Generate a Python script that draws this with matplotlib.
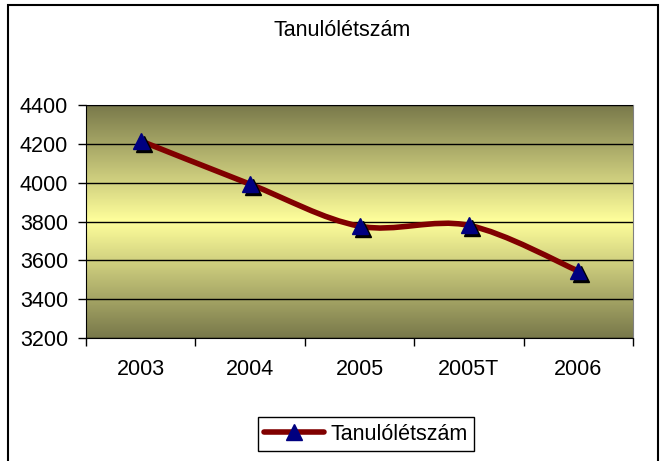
import numpy as np
import matplotlib
matplotlib.use("Agg")
import matplotlib.pyplot as plt
from matplotlib.path import Path
from matplotlib.patches import PathPatch, Rectangle
from matplotlib.lines import Line2D
from matplotlib.transforms import offset_copy

plt.rcParams['font.family'] = ['Liberation Sans', 'DejaVu Sans']

# adatok
years = ['2003', '2004', '2005', '2005T', '2006']
students = [4215, 3992, 3776, 3780, 3545]
yticks = [3200, 3400, 3600, 3800, 4000, 4200, 4400]
title = 'Tanulólétszám'

line_col = '#800000'
marker_col = '#000080'
fs = 15.5

fig = plt.figure(figsize=(6.62, 4.61), dpi=100)
W, H = 662, 461
ax = fig.add_axes([86/W, 1-338/H, (633-86)/W, (338-105)/H])

# külső keret
fig.patches.append(Rectangle((8/W, -0.05), (658-8)/W, 1.05-5/H, transform=fig.transFigure,
                             fill=False, edgecolor='black', linewidth=1.5))

# színátmenetes háttér (középen világos sárga)
t = np.abs(np.linspace(-1, 1, 256))[:, None]
top = np.array([0.47, 0.47, 0.29])
mid = np.array([1.0, 1.0, 0.61])
grad = mid + (top - mid) * t[..., None]
grad = np.repeat(grad, 2, axis=1)
ax.imshow(grad, extent=[0, 1, 0, 1], transform=ax.transAxes, aspect='auto', zorder=0)

x = np.arange(len(years))
y = np.array(students, dtype=float)
ax.set_xlim(-0.5, len(years) - 0.5)
ax.set_ylim(3200, 4400)

# simított vonal (Excel-szerű Bezier)
px = np.concatenate([[x[0]], x, [x[-1]]])
py = np.concatenate([[y[0]], y, [y[-1]]])
verts = [(x[0], y[0])]
codes = [Path.MOVETO]
for i in range(1, len(px) - 2):
    c1 = (px[i] + (px[i+1] - px[i-1]) / 6, py[i] + (py[i+1] - py[i-1]) / 6)
    c2 = (px[i+1] - (px[i+2] - px[i]) / 6, py[i+1] - (py[i+2] - py[i]) / 6)
    verts += [c1, c2, (px[i+1], py[i+1])]
    codes += [Path.CURVE4] * 3
ax.add_patch(PathPatch(Path(verts, codes), fill=False, edgecolor=line_col,
                       linewidth=4, capstyle='round', joinstyle='round', zorder=3))

# jelölők árnyékkal
shadow = offset_copy(ax.transData, fig=fig, x=3, y=-3, units='dots')
ax.plot(x, y, linestyle='none', marker='^', markersize=11, color='black', transform=shadow, zorder=4)
ax.plot(x, y, linestyle='none', marker='^', markersize=11, color=marker_col, zorder=5)

ax.set_yticks(yticks)
ax.yaxis.grid(True, color='black', linewidth=1)
ax.set_axisbelow(False)
for gl in ax.get_ygridlines():
    gl.set_zorder(1)
ax.tick_params(axis='y', direction='out', length=6, width=1, labelsize=fs, pad=7)

ax.set_xticks(x)
ax.set_xticklabels(years)
ax.set_xticks(np.arange(-0.5, len(years)), minor=True)
ax.tick_params(axis='x', which='major', length=0, labelsize=fs, pad=15)
ax.tick_params(axis='x', which='minor', direction='out', length=6, width=1)

for s in ['top', 'right']:
    ax.spines[s].set_color('#808080')
for s in ['left', 'bottom']:
    ax.spines[s].set_color('black')

fig.text(342/W, 1-30/H, title, ha='center', va='center', fontsize=fs)

handle = Line2D([], [], color=line_col, linewidth=4, marker='^', markersize=11,
                markerfacecolor=marker_col, markeredgecolor=marker_col, solid_capstyle='round')
leg = fig.legend([handle], [title], loc='center', bbox_to_anchor=(366/W, 1-434/H),
                 fontsize=fs, handlelength=2.8, fancybox=False, framealpha=1,
                 edgecolor='black', borderpad=0.3, handletextpad=0.3, borderaxespad=0)
leg.get_frame().set_linewidth(1)

fig.savefig('out.png', dpi=100)
